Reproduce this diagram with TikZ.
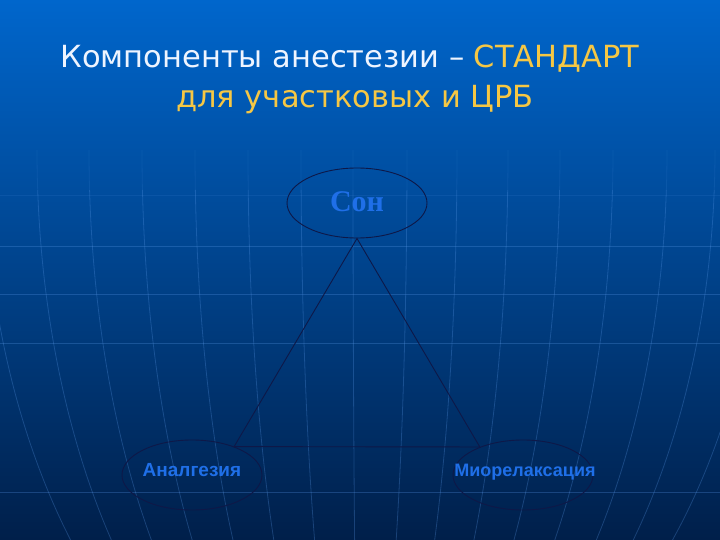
\documentclass[tikz,border=0pt]{standalone}
\usepackage{fontspec}
\setmainfont{Liberation Serif}
\newfontfamily\titlefont{DejaVu Sans}
\newfontfamily\arialfont{Liberation Sans}
\newfontfamily\timesfont{Liberation Serif}
\usetikzlibrary{shapes.geometric}
\definecolor{bgtop}{HTML}{0066CC}
\definecolor{bgmid}{HTML}{003E8C}
\definecolor{bgbot}{HTML}{001F4A}
\definecolor{titlewhite}{HTML}{EEF4FF}
\definecolor{titleyellow}{HTML}{F6C744}
\definecolor{ovalline}{HTML}{0E1848}
\definecolor{lbltext}{HTML}{1F6FE8}
\definecolor{gridline}{HTML}{5A9AEA}
\tikzset{
  oval/.style={ellipse, draw=ovalline, line width=0.9pt, minimum width=140pt, minimum height=70pt, inner sep=0pt},
  lbl/.style={text=lbltext, inner sep=0pt},
  tri/.style={draw=ovalline, line width=0.9pt},
  grid/.style={draw=gridline, line width=0.8pt, opacity=0.28},
  gridfaint/.style={draw=gridline, line width=0.8pt, opacity=0.12},
  ttl/.style={anchor=base, inner sep=0pt, font=\titlefont\fontsize{30.5}{34}\selectfont}
}
\begin{document}
\begin{tikzpicture}[x=1pt, y=-1pt]
\useasboundingbox (0,0) rectangle (720,540);
% background
\fill[top color=bgtop, middle color=bgmid, bottom color=bgbot] (0,0) rectangle (720,540);
% grid: horizontal lines
\draw[gridfaint] (0,195) -- (720,195);
\foreach \yy in {246,294,343,492}
  \draw[grid] (0,\yy) -- (720,\yy);
% grid: meridians
\begin{scope}
\clip (0,0) rectangle (720,540);
\foreach \d in {-376,-323,-271,-218,-165,-112,-59,-7,47,97,148,200,253,307,355,406}{
  \draw[gridfaint] plot[domain=150:190, samples=5, smooth] ({360+\d*sqrt(1-((\x-150)/611)^2)}, \x);
  \draw[grid] plot[domain=190:540, samples=25, smooth] ({360+\d*sqrt(1-((\x-150)/611)^2)}, \x);
}
\end{scope}
% title
\node[ttl, text=titlewhite] (t1) at (350,68) {Компоненты анестезии – \textcolor{titleyellow}{СТАНДАРТ}};
\node[ttl, text=titleyellow] (t2) at (355,108) {для участковых и ЦРБ};
% ellipses
\node[oval] (son) at (357,203) {};
\node[oval] (ana) at (192,475) {};
\node[oval] (mio) at (523,475) {};
% labels
\node[lbl, font=\timesfont\bfseries\fontsize{30}{34}\selectfont] (sontxt) at ([yshift=1pt]son.center) {Сон};
\node[lbl, font=\arialfont\bfseries\fontsize{19}{22}\selectfont] (anatxt) at ([yshift=5pt]ana.center) {Аналгезия};
\node[lbl, font=\arialfont\bfseries\fontsize{18}{22}\selectfont] (miotxt) at ([xshift=2pt,yshift=3pt]mio.center) {Миорелаксация};
% triangle
\draw[tri] (son.south) -- (ana.34) -- (mio.147) -- cycle;
\end{tikzpicture}
\end{document}
